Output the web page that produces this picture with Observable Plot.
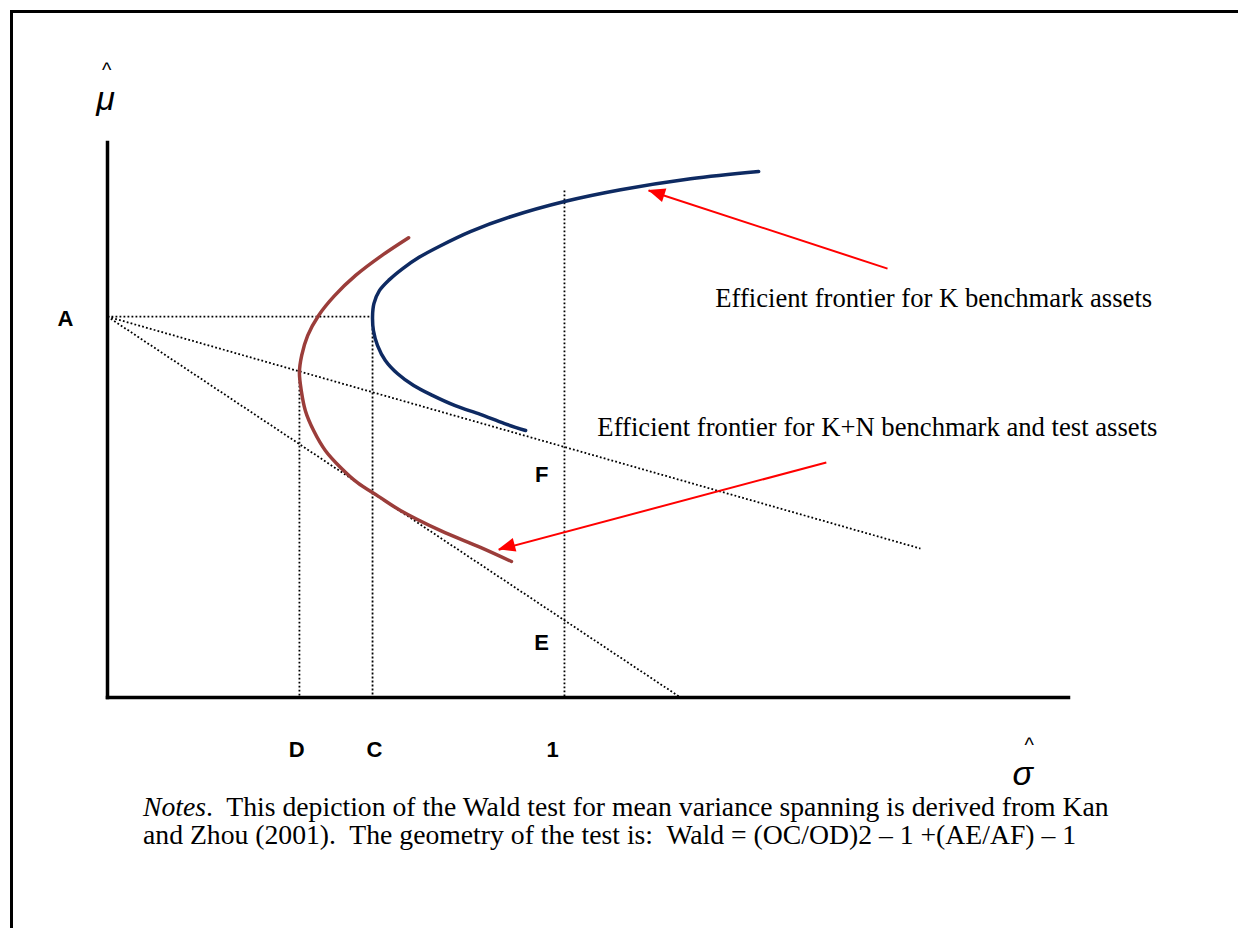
<!DOCTYPE html>
<html><head><meta charset="utf-8">
<script src="https://cdn.jsdelivr.net/npm/d3@7"></script>
<script src="https://cdn.jsdelivr.net/npm/@observablehq/plot@0.6"></script>
<style>
html,body{margin:0;padding:0;background:#fff;}
body{width:1238px;height:928px;position:relative;overflow:hidden;}
#frame{position:absolute;left:10px;top:10px;width:1300px;height:1000px;border-top:3px solid #000;border-left:3px solid #000;pointer-events:none;}
#chart{position:absolute;left:0;top:0;}
#notes{position:absolute;left:143px;top:793px;font-family:"Liberation Serif","Times New Roman",serif;font-size:27.7px;line-height:28px;white-space:pre;color:#000;}
</style></head><body>
<div id="chart"></div>
<div id="notes"></div>
<div id="frame"></div>
<script>
// axis extents (sigma-hat horizontally, mu-hat vertically; "1" on the sigma axis = 1, point A = 1)
const axisSigmaEnd = 2.103;
const axisMuEnd = 1.457;

// efficient frontier, K benchmark assets (blue), lower end -> vertex -> upper end
const blueSigma = [0.915, 0.869, 0.816, 0.761, 0.711, 0.670, 0.635, 0.608, 0.591, 0.582, 0.580, 0.583, 0.595, 0.617, 0.646, 0.681, 0.729, 0.794, 0.882, 1.000, 1.123, 1.276, 1.425];
const blueMu    = [0.701, 0.719, 0.743, 0.766, 0.793, 0.819, 0.850, 0.885, 0.924, 0.963, 1.000, 1.034, 1.068, 1.097, 1.126, 1.155, 1.186, 1.223, 1.262, 1.302, 1.333, 1.362, 1.381];

// efficient frontier, K+N assets (red), upper end -> vertex -> lower end
const redSigma = [0.659, 0.600, 0.543, 0.497, 0.462, 0.438, 0.425, 0.420, 0.424, 0.433, 0.451, 0.477, 0.510, 0.547, 0.593, 0.641, 0.729, 0.816, 0.884];
const redMu    = [1.207, 1.160, 1.108, 1.055, 1.003, 0.950, 0.898, 0.853, 0.806, 0.753, 0.701, 0.648, 0.604, 0.564, 0.528, 0.491, 0.438, 0.394, 0.357];

// dotted construction lines
const guideX1 = [0,     0.580, 0.420, 1.000, 0,     0];
const guideY1 = [1.000, 1.000, 0.850, 1.331, 1.000, 1.000];
const guideX2 = [0.580, 0.580, 0.420, 1.000, 1.779, 1.254];
const guideY2 = [1.000, 0,     0,     0,     0.391, 0];

// red annotation arrows (tail -> tip)
const arrowX1 = [1.707, 1.573];
const arrowY1 = [1.126, 0.617];
const arrowX2 = [1.184, 0.856];
const arrowY2 = [1.331, 0.388];

// point labels
const pointLabels = ["A", "D", "C", "1", "F", "E"];
const pointLabelX = [-0.092, 0.414, 0.584, 0.974, 0.950, 0.950];
const pointLabelY = [0.995, -0.139, -0.139, -0.139, 0.585, 0.144];

// annotation texts
const noteTexts = ["Efficient frontier for K benchmark assets", "Efficient frontier for K+N benchmark and test assets"];
const noteX = [1.330, 1.072];
const noteY = [1.047, 0.709];

// axis symbols
const axisSymbols = ["μ", "σ"];
const symbolX = [-0.004, 2.003];
const symbolY = [1.570, -0.202];
const caretX = [-0.002, 2.017];
const caretY = [1.646, -0.126];

const captionLines = [
  "Notes.  This depiction of the Wald test for mean variance spanning is derived from Kan",
  "and Zhou (2001).  The geometry of the test is:  Wald = (OC/OD)2 \u2013 1 +(AE/AF) \u2013 1"
];

const blue = blueSigma.map((s, i) => ({sigma: s, mu: blueMu[i]}));
const red = redSigma.map((s, i) => ({sigma: s, mu: redMu[i]}));
const guides = guideX1.map((x, i) => ({x1: x, y1: guideY1[i], x2: guideX2[i], y2: guideY2[i]}));
const axes = [{x1: 0, y1: 0, x2: axisSigmaEnd, y2: 0}, {x1: 0, y1: 0, x2: 0, y2: axisMuEnd}];
const arrows = arrowX1.map((x, i) => ({x1: x, y1: arrowY1[i], x2: arrowX2[i], y2: arrowY2[i]}));
const labels = pointLabels.map((t, i) => ({t, x: pointLabelX[i], y: pointLabelY[i]}));
const notes = noteTexts.map((t, i) => ({t, x: noteX[i], y: noteY[i]}));
const symbols = axisSymbols.map((t, i) => ({t, x: symbolX[i], y: symbolY[i]}));
const carets = caretX.map((x, i) => ({t: "^", x, y: caretY[i]}));

function arrowHeads(index, scales) {
  const g = d3.create("svg:g").attr("fill", "#ff0000");
  arrows.forEach(a => {
    const tx = scales.x(a.x2), ty = scales.y(a.y2);
    const bx = scales.x(a.x1), by = scales.y(a.y1);
    const ang = Math.atan2(ty - by, tx - bx);
    const L = 17, W = 7;
    const cx = tx - L * Math.cos(ang), cy = ty - L * Math.sin(ang);
    const px = -Math.sin(ang) * W, py = Math.cos(ang) * W;
    g.append("path").attr("d", `M${tx},${ty}L${cx + px},${cy + py}L${cx - px},${cy - py}Z`);
  });
  return g.node();
}

const chart = Plot.plot({
  width: 1238,
  height: 790,
  marginLeft: 107,
  marginRight: 170,
  marginTop: 142,
  marginBottom: 93,
  x: {domain: [0, axisSigmaEnd], axis: null},
  y: {domain: [0, axisMuEnd], axis: null},
  style: {background: "transparent", overflow: "visible"},
  marks: [
    Plot.link(guides, {x1: "x1", y1: "y1", x2: "x2", y2: "y2", stroke: "#000", strokeWidth: 1.8, strokeDasharray: "1.8 2.2"}),
    Plot.link(axes, {x1: "x1", y1: "y1", x2: "x2", y2: "y2", stroke: "#000", strokeWidth: 3.5, strokeLinecap: "square"}),
    Plot.line(red, {x: "sigma", y: "mu", stroke: "#9b3d3a", strokeWidth: 3.5, curve: "catmull-rom"}),
    Plot.line(blue, {x: "sigma", y: "mu", stroke: "#0e2a62", strokeWidth: 3.5, curve: "catmull-rom"}),
    Plot.link(arrows, {x1: "x1", y1: "y1", x2: "x2", y2: "y2", stroke: "#ff0000", strokeWidth: 2}),
    arrowHeads,
    Plot.text(labels, {x: "x", y: "y", text: "t", fontFamily: "Liberation Sans", fontWeight: "bold", fontSize: 22, fill: "#000"}),
    Plot.text(notes, {x: "x", y: "y", text: "t", textAnchor: "start", fontFamily: "Liberation Serif", fontSize: 26.67, fill: "#000"}),
    Plot.text(symbols, {x: "x", y: "y", text: "t", fontFamily: "Liberation Sans", fontStyle: "italic", fontSize: 34, fill: "#000"}),
    Plot.text(carets, {x: "x", y: "y", text: "t", fontFamily: "Liberation Sans", fontSize: 20, fill: "#000"})
  ]
});
document.getElementById("chart").appendChild(chart);

const notesDiv = document.getElementById("notes");
captionLines.forEach((line, i) => {
  const row = document.createElement("div");
  if (i === 0) {
    const em = document.createElement("i");
    em.textContent = "Notes";
    row.appendChild(em);
    row.appendChild(document.createTextNode(line.slice(5)));
  } else {
    row.textContent = line;
  }
  notesDiv.appendChild(row);
});
</script></body></html>
